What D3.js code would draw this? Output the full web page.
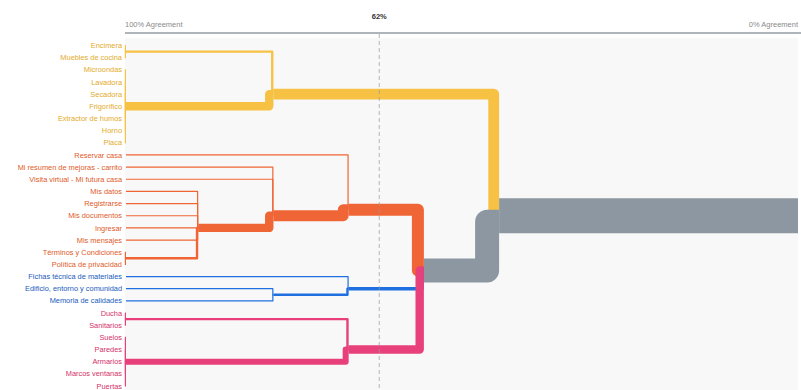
<!DOCTYPE html>
<html>
<head>
<meta charset="utf-8">
<script src="https://cdn.jsdelivr.net/npm/d3@7"></script>
<style>
  body { margin: 0; background: #fff; }
  svg { display: block; font-family: "Liberation Sans", Arial, sans-serif; }
</style>
</head>
<body>
<svg id="chart" width="801" height="390"></svg>
<script>
// leaf labels, top to bottom
var labels = [
    "Encimera", "Muebles de cocina", "Microondas", "Lavadora", "Secadora", "Frigorífico",
    "Extractor de humos", "Horno", "Placa",
    "Reservar casa", "Mi resumen de mejoras - carrito", "Visita virtual - Mi futura casa",
    "Mis datos", "Registrarse", "Mis documentos", "Ingresar", "Mis mensajes",
    "Términos y Condiciones", "Política de privacidad",
    "Fichas técnica de materiales", "Edificio, entorno y comunidad", "Memoria de calidades",
    "Ducha", "Sanitarios", "Suelos", "Paredes", "Armarios", "Marcos ventanas", "Puertas"
];
// group of each leaf (0 cocina, 1 cuenta, 2 documentación, 3 acabados)
var leafGroup = [0, 0, 0, 0, 0, 0, 0, 0, 0,
    1, 1, 1, 1, 1, 1, 1, 1, 1, 1,
    2, 2, 2,
    3, 3, 3, 3, 3, 3, 3];
var participants = 9;
var threshold = 0.62;
// merges: first item = participants agreeing, rest = children (leaf index or merge)
var merges = [4,
    [7, [9, 0, 1], [9, 2, 3, 4, 5, 6, 7, 8]],
    [5,
        [6, 9, [7, 10, 11, [8, 12, 13, 14, 15, 16, [9, 17, 18]]]],
        [6, 19, [7, 20, 21]],
        [6, [9, 22, 23], [9, 24, 25, 26, 27, 28]]
    ]
];

var lineColors = ["#f7c244", "#f06535", "#1f6fe0", "#e8407a"];
var textColors = ["#e3aa28", "#e05a28", "#1a5abd", "#d43168"];
var mixedColor = "#8c97a1";

var svg = d3.select("#chart");

var xScale = d3.scaleLinear().domain([1, 0]).range([123, 800]);
var yScale = d3.scaleLinear().domain([0, labels.length - 1]).range([45.5, 386]);
var leafX = 126;

// header
svg.append("line")
    .attr("x1", 125).attr("x2", 801).attr("y1", 33).attr("y2", 33)
    .attr("stroke", "#5d6d75").attr("stroke-width", 1);
svg.append("text").attr("x", 125).attr("y", 27)
    .attr("font-size", "7.5px").attr("fill", "#8a8a8a").text("100% Agreement");
svg.append("text").attr("x", 798).attr("y", 27).attr("text-anchor", "end")
    .attr("font-size", "7.5px").attr("fill", "#8a8a8a").text("0% Agreement");
svg.append("text").attr("x", xScale(threshold) - 1).attr("y", 18.5).attr("text-anchor", "middle")
    .attr("font-size", "7.5px").attr("font-weight", "bold").attr("fill", "#333").text(Math.round(threshold * 100) + "%");

// plot background
svg.append("rect")
    .attr("x", 125).attr("y", 38).attr("width", 673).attr("height", 352)
    .attr("fill", "#f8f8f8");

// build the tree
function toNode(d) {
    return typeof d === "number" ? { leaf: d } : { level: d[0], kids: d.slice(1).map(toNode) };
}
var root = d3.hierarchy(toNode(merges), function (d) { return d.kids; }).count();

root.eachAfter(function (n) {
    var leaves = n.leaves();
    n.py = n.children ? d3.mean(leaves, function (l) { return yScale(l.data.leaf); }) : yScale(n.data.leaf);
    n.px = (!n.children || n.data.level === participants) ? leafX : xScale(n.data.level / participants);
    n.w = n.value * 1.2;
    var groups = d3.union(leaves.map(function (l) { return leafGroup[l.data.leaf]; }));
    n.color = groups.size === 1 ? lineColors[Array.from(groups)[0]] : mixedColor;
});

// links: horizontal to the parent, then vertical, outer edge on the parent's x
svg.append("g").selectAll("path")
    .data(root.descendants().filter(function (n) { return n.parent; }))
    .enter().append("path")
    .attr("d", function (c) {
        var p = c.parent;
        var endY = p.py + (c.py > p.py ? 1 : -1) * Math.min(c.w / 4, 6);
        return "M" + c.px + "," + c.py + "H" + (p.px - c.w / 2) + "V" + (c.w > 12 ? endY : p.py) + "H" + p.px;
    })
    .attr("fill", "none")
    .attr("stroke", function (c) { return c.color; })
    .attr("stroke-width", function (c) { return c.w; })
    .attr("stroke-linejoin", "round");

// root stem
svg.append("path")
    .attr("d", "M" + root.px + "," + root.py + "H798")
    .attr("stroke", root.color)
    .attr("stroke-width", root.w)
    .attr("fill", "none");

// threshold line
svg.append("line")
    .attr("x1", xScale(threshold) - 1).attr("x2", xScale(threshold) - 1)
    .attr("y1", 34).attr("y2", 390)
    .attr("stroke", "#999").attr("stroke-width", 1)
    .attr("stroke-dasharray", "4,3").attr("opacity", 0.7);

// leaf labels
svg.append("g").selectAll("text")
    .data(labels)
    .enter().append("text")
    .attr("x", 122)
    .attr("y", function (d, i) { return yScale(i); })
    .attr("dy", "0.35em")
    .attr("text-anchor", "end")
    .attr("font-size", "7.4px")
    .attr("fill", function (d, i) { return textColors[leafGroup[i]]; })
    .text(function (d) { return d; });
</script>
</body>
</html>
